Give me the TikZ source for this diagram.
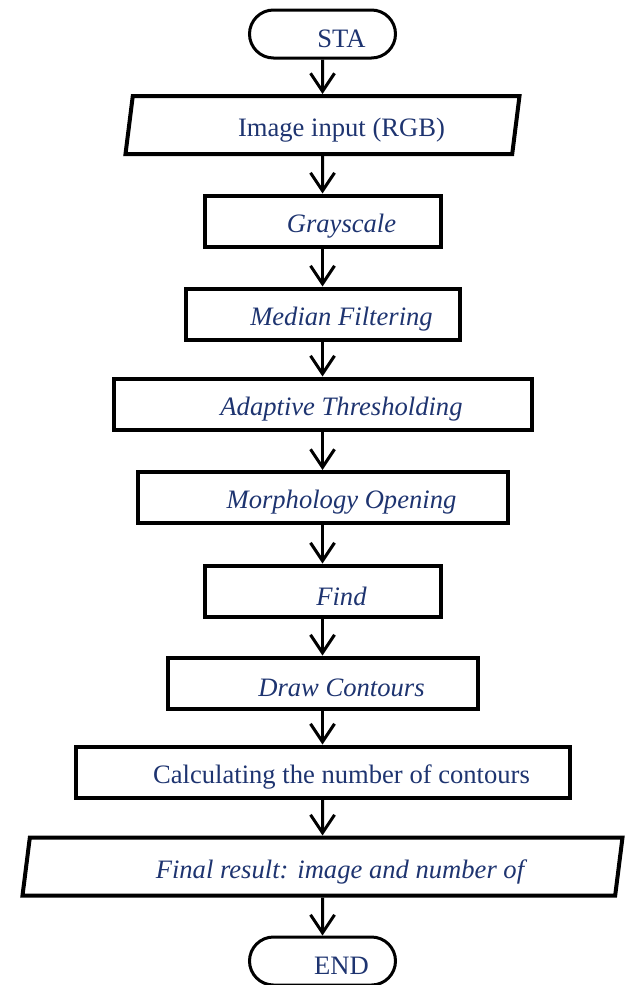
\documentclass[tikz,border=0pt]{standalone}
\usepackage{fontspec}
\setmainfont{Liberation Serif}
\usetikzlibrary{arrows.meta,shapes.geometric}
\definecolor{textblue}{RGB}{30,52,112}
\tikzstyle{every node}=[font=\fontsize{13.3}{16}\selectfont,text=textblue]
\tikzstyle{terminal}=[rectangle,
                      rounded corners=12pt,
                      draw=black,
                      line width=1.5pt,
                      minimum width=73pt,
                      minimum height=24pt]
\tikzstyle{process}=[rectangle,
                     draw=black,
                     line width=2pt,
                     minimum height=25.5pt]
\tikzstyle{io}=[trapezium,
                trapezium left angle=79,
                trapezium right angle=101,
                trapezium stretches body,
                draw=black,
                line width=2pt,
                minimum height=29pt]
\tikzstyle{flow}=[draw=black,line width=1.5pt]
\newcommand{\moved}[1]{\hspace*{19pt}\raisebox{-2.5pt}[\height][\depth]{#1}}

\begin{document}
\begin{tikzpicture}[node distance=46.5pt,>={Straight Barb[length=9pt,width=12pt]}]
\useasboundingbox (0,0) rectangle (312.5pt,-492.5pt);
\node (start)  [terminal] at (161.25pt,-17pt) {\moved{STA}};
\node (input)  [io,minimum width=197pt,below of=start,node distance=45.5pt] {\moved{Image input (RGB)}};
\node (gray)   [process,minimum width=118pt,below of=input,node distance=48pt] {\moved{\textit{Grayscale}}};
\node (median) [process,minimum width=137pt,below of=gray] {\moved{\textit{Median Filtering}}};
\node (thresh) [process,minimum width=209pt,below of=median,node distance=45pt] {\moved{\textit{Adaptive Thresholding}}};
\node (morph)  [process,minimum width=185pt,below of=thresh,node distance=46.75pt] {\moved{\textit{Morphology Opening}}};
\node (find)   [process,minimum width=118pt,below of=morph,node distance=46.75pt] {\moved{\textit{Find}}};
\node (draw)   [process,minimum width=155pt,below of=find,node distance=46pt] {\moved{\textit{Draw Contours}}};
\node (count)  [process,minimum width=247pt,below of=draw,node distance=44.5pt] {\moved{Calculating the number of contours}};
\node (result) [io,minimum width=300pt,below of=count,node distance=47.25pt] {\moved{\textit{Final result: image and number of}}};
\node (stop)   [terminal,below of=result,node distance=47.25pt] {\moved{END}};
\path[->] (start) edge[flow] (input);
\path[->] (input) edge[flow] (gray);
\path[->] (gray) edge[flow] (median);
\path[->] (median) edge[flow] (thresh);
\path[->] (thresh) edge[flow] (morph);
\path[->] (morph) edge[flow] (find);
\path[->] (find) edge[flow] (draw);
\path[->] (draw) edge[flow] (count);
\path[->] (count) edge[flow] (result);
\path[->] (result) edge[flow] (stop);
\end{tikzpicture}
\end{document}
